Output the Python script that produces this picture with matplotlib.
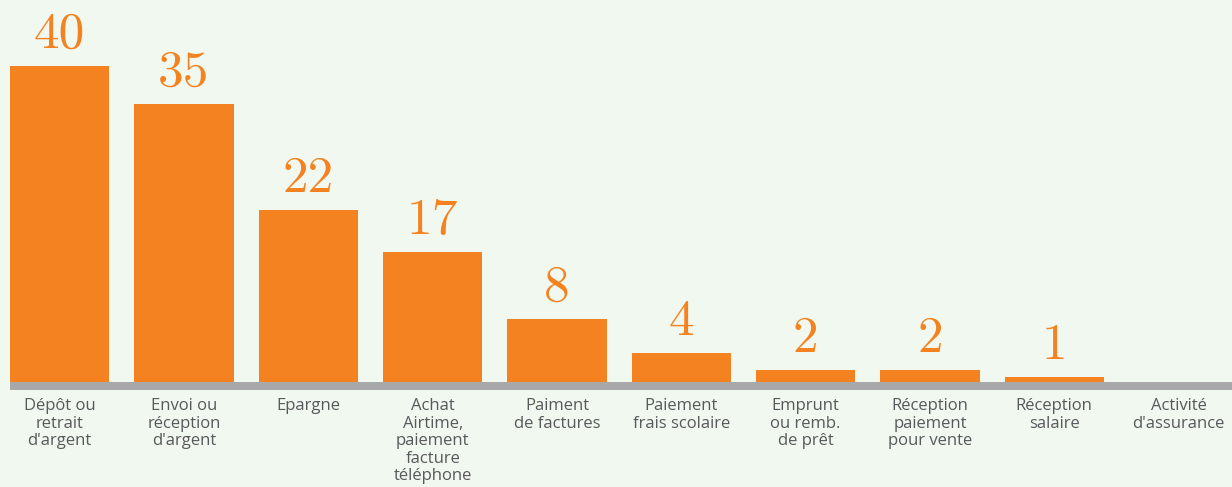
import matplotlib.pyplot as plt
import numpy as np

# usage shares (bar heights, labels as printed)
categories = ["Dépôt ou\nretrait\nd'argent", "Envoi ou\nréception\nd'argent", "Epargne",
              "Achat\nAirtime,\npaiement\nfacture\ntéléphone", "Paiment\nde factures",
              "Paiement\nfrais scolaire", "Emprunt\nou remb.\nde prêt",
              "Réception\npaiement\npour vente", "Réception\nsalaire", "Activité\nd'assurance"]
values = [40, 35.2, 21.8, 16.5, 8, 3.7, 1.5, 1.5, 0.6, 0]
value_labels = ["40", "35", "22", "17", "8", "4", "2", "2", "1", ""]

orange = '#f58220'
bg = '#f1f8ef'
gray_text = '#58595b'

fig = plt.figure(figsize=(12.32, 4.87), dpi=100, facecolor=bg)
ax = fig.add_axes([10 / 1232, 97 / 487, 1222 / 1232, 390 / 487])
ax.set_facecolor(bg)

x = np.arange(len(categories))
ax.bar(x, values, width=0.8, color=orange, zorder=2)
ax.axhspan(-1, 0, color='#a8a8ab', zorder=1, lw=0)

for xi, v, lab in zip(x, values, value_labels):
    if lab:
        ax.annotate(lab, (xi, v), xytext=(0, 6), textcoords='offset points',
                    ha='center', va='bottom', fontsize=37, color=orange, family='cmr10')
    ax.annotate(categories[xi], (xi, -1), xytext=(0, -6), textcoords='offset points',
                ha='center', va='top', fontsize=12, color=gray_text, family='Open Sans',
                linespacing=1.12, annotation_clip=False)

ax.set_xlim(-0.4, 9.43)
ax.set_ylim(-1, 48.4)
ax.axis('off')

fig.savefig('out.png', dpi=100, facecolor=bg)
